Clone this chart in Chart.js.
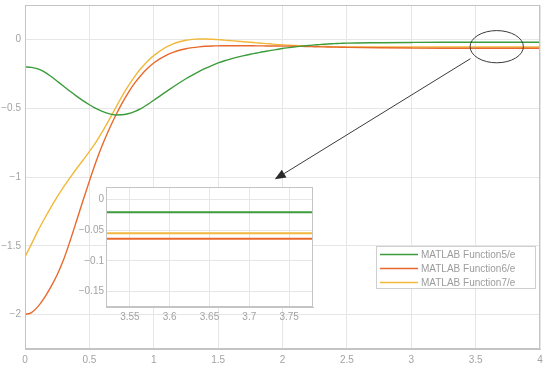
<!DOCTYPE html>
<html><head><meta charset="utf-8">
<script src="https://cdn.jsdelivr.net/npm/chart.js@4/dist/chart.umd.min.js"></script>
<style>
html,body{margin:0;padding:0;background:#fff;}
#wrap{position:relative;width:550px;height:368px;overflow:hidden;}
#main{position:absolute;left:0;top:0;width:550px;height:368px;}
#inset{position:absolute;left:70px;top:180px;width:250px;height:145px;}
</style></head><body>
<div id="wrap">
<canvas id="main" width="550" height="368"></canvas>
<canvas id="inset" width="250" height="145"></canvas>
</div>
<script>
// ---- data ----
const xs = [0,0.05,0.1,0.15,0.2,0.25,0.3,0.35,0.4,0.45,0.5,0.55,0.6,0.65,0.7,0.75,0.8,0.85,0.9,0.95,
  1.0,1.05,1.1,1.15,1.2,1.25,1.3,1.35,1.4,1.45,1.5,1.55,1.6,1.65,1.7,1.75,1.8,1.85,1.9,1.95,
  2.0,2.05,2.1,2.15,2.2,2.25,2.3,2.35,2.4,2.45,2.5,2.75,3.0,3.25,3.5,3.75,4.0];
const fn5 = [-0.200,-0.203,-0.214,-0.236,-0.268,-0.304,-0.340,-0.377,-0.412,-0.445,-0.475,-0.502,-0.523,-0.539,-0.549,-0.548,-0.540,-0.525,-0.503,-0.474,
  -0.442,-0.410,-0.378,-0.346,-0.315,-0.286,-0.259,-0.234,-0.211,-0.190,-0.171,-0.155,-0.141,-0.129,-0.118,-0.108,-0.099,-0.090,-0.082,-0.074,
  -0.066,-0.060,-0.054,-0.049,-0.044,-0.040,-0.036,-0.033,-0.031,-0.029,-0.027,-0.024,-0.022,-0.021,-0.021,-0.021,-0.021];
const fn6 = [-2.000,-1.985,-1.942,-1.878,-1.800,-1.710,-1.600,-1.465,-1.320,-1.172,-1.030,-0.893,-0.770,-0.660,-0.560,-0.470,-0.390,-0.320,-0.262,-0.212,
  -0.172,-0.140,-0.114,-0.094,-0.079,-0.068,-0.060,-0.054,-0.050,-0.048,-0.047,-0.046,-0.046,-0.046,-0.046,-0.046,-0.047,-0.047,-0.048,-0.048,
  -0.049,-0.049,-0.050,-0.051,-0.052,-0.053,-0.054,-0.055,-0.056,-0.057,-0.058,-0.061,-0.063,-0.064,-0.064,-0.064,-0.064];
const fn7 = [-1.580,-1.488,-1.392,-1.305,-1.222,-1.145,-1.072,-1.005,-0.940,-0.878,-0.815,-0.748,-0.672,-0.590,-0.505,-0.420,-0.342,-0.272,-0.212,-0.160,
  -0.118,-0.083,-0.055,-0.033,-0.017,-0.006,0.000,0.003,0.003,0.001,-0.002,-0.005,-0.009,-0.013,-0.017,-0.021,-0.025,-0.029,-0.032,-0.036,
  -0.039,-0.042,-0.044,-0.046,-0.048,-0.050,-0.051,-0.052,-0.053,-0.054,-0.054,-0.055,-0.055,-0.055,-0.055,-0.055,-0.055];
const seriesNames = ['MATLAB Function5/e','MATLAB Function6/e','MATLAB Function7/e'];
const mainXTicks = [0,0.5,1,1.5,2,2.5,3,3.5,4];
const mainYTicks = [-2,-1.5,-1,-0.5,0];
const insetXTicks = [3.55,3.6,3.65,3.7,3.75];
const insetYTicks = [0,-0.05,-0.1,-0.15];
// callout (data units of main axes)
const calloutEllipse = {cx:3.664, cy:-0.053, rx:0.207, ry:0.117};
const calloutArrow = {x1:3.46, y1:-0.14, x2:1.94, y2:-1.017};

// ---- style ----
const COLORS = ['#3b9c3b','#e8692e','#f2b83c'];
const TXT = '#a3a3a3', GRID = '#e6e6e6', BOX = '#c4c4c4';
Chart.defaults.font.family = '"Liberation Sans", Arial, Helvetica, sans-serif';
Chart.defaults.font.size = 10;
const fmt = v => (Math.round(v*10000)/10000).toString().replace('-', '\u2212');

function makeDatasets(bw){
  return [fn5,fn6,fn7].map((arr,k)=>({
    label: seriesNames[k],
    data: xs.map((x,i)=>({x:x, y:arr[i]})),
    borderColor: COLORS[k], backgroundColor: COLORS[k],
    borderWidth: bw, pointRadius: 0, fill:false,
    cubicInterpolationMode:'monotone'
  }));
}

const boxPlugin = {
  id:'boxPlug',
  beforeDraw(chart, args, opts){
    if(opts.whiteBg){
      const a=chart.chartArea, c=chart.ctx;
      c.save(); c.fillStyle='#fff'; c.fillRect(a.left,a.top,a.right-a.left,a.bottom-a.top); c.restore();
    }
  },
  afterDraw(chart, args, opts){
    const a=chart.chartArea, c=chart.ctx;
    c.save();
    c.strokeStyle=BOX; c.lineWidth=1;
    c.strokeRect(Math.round(a.left)+0.5, Math.round(a.top)+0.5, Math.round(a.right)-Math.round(a.left)-1, Math.round(a.bottom)-Math.round(a.top)-1);
    c.restore();
    if(opts.annotate){
      const xsS=chart.scales.x, ysS=chart.scales.y;
      c.save();
      c.strokeStyle='#3a3a3a'; c.fillStyle='#2a2a2a'; c.lineWidth=1;
      const ex=xsS.getPixelForValue(calloutEllipse.cx), ey=ysS.getPixelForValue(calloutEllipse.cy);
      const erx=xsS.getPixelForValue(calloutEllipse.cx+calloutEllipse.rx)-ex;
      const ery=ey-ysS.getPixelForValue(calloutEllipse.cy+calloutEllipse.ry);
      c.beginPath(); c.ellipse(ex,ey,erx,ery,0,0,Math.PI*2); c.stroke();
      const x1=xsS.getPixelForValue(calloutArrow.x1), y1=ysS.getPixelForValue(calloutArrow.y1);
      const x2=xsS.getPixelForValue(calloutArrow.x2), y2=ysS.getPixelForValue(calloutArrow.y2);
      const ang=Math.atan2(y2-y1,x2-x1), L=11, W=4.5;
      const bx=x2-L*Math.cos(ang), by=y2-L*Math.sin(ang);
      c.beginPath(); c.moveTo(x1,y1); c.lineTo(bx,by); c.stroke();
      c.beginPath(); c.moveTo(x2,y2);
      c.lineTo(bx+W*Math.sin(ang), by-W*Math.cos(ang));
      c.lineTo(bx-W*Math.sin(ang), by+W*Math.cos(ang));
      c.closePath(); c.fill();
      c.restore();
    }
    if(opts.legend){
      const L=opts.legend;
      c.save();
      c.fillStyle='#fff'; c.fillRect(L.x,L.y,L.w,L.h);
      c.strokeStyle='#cfcfcf'; c.lineWidth=1; c.strokeRect(L.x+0.5,L.y+0.5,L.w-1,L.h-1);
      c.font='10px "Liberation Sans", Arial, sans-serif'; c.textBaseline='middle'; c.textAlign='left';
      chart.data.datasets.forEach((ds,i)=>{
        const yy=L.y+8+i*14;
        c.strokeStyle=ds.borderColor; c.lineWidth=1.5;
        c.beginPath(); c.moveTo(L.x+4,yy+0.5); c.lineTo(L.x+42,yy+0.5); c.stroke();
        c.fillStyle='#9c9c9c'; c.fillText(ds.label, L.x+45, yy+1);
      });
      c.restore();
    }
  }
};

function axisX(min,max,ticks,h,pad){
  return {type:'linear', min:min, max:max,
    afterBuildTicks: s=>{ s.ticks = ticks.map(v=>({value:v})); },
    afterFit: s=>{ s.height=h; s.paddingLeft=0; s.paddingRight=0; },
    ticks:{color:TXT, padding:pad, maxRotation:0, autoSkip:false, callback:v=>fmt(v)},
    grid:{color:GRID, drawTicks:false}, border:{color:BOX}};
}
function axisY(min,max,ticks,w,pad){
  return {type:'linear', min:min, max:max,
    afterBuildTicks: s=>{ s.ticks = ticks.map(v=>({value:v})); },
    afterFit: s=>{ s.width=w; s.paddingTop=0; s.paddingBottom=0; },
    ticks:{color:TXT, padding:pad, autoSkip:false, callback:v=>fmt(v)},
    grid:{color:GRID, drawTicks:false}, border:{color:BOX}};
}

new Chart(document.getElementById('main'), {
  type:'line',
  data:{datasets: makeDatasets(1.4)},
  options:{
    responsive:false, animation:false, events:[],
    layout:{padding:{left:0,right:10,top:5,bottom:0}},
    scales:{ x: axisX(0,4,mainXTicks,19,5), y: axisY(-2.25,0.25,mainYTicks,25,4) },
    plugins:{ legend:{display:false}, tooltip:{enabled:false},
      boxPlug:{annotate:true, legend:{x:376,y:246,w:160,h:43}} }
  },
  plugins:[boxPlugin]
});

new Chart(document.getElementById('inset'), {
  type:'line',
  data:{datasets: makeDatasets(2)},
  options:{
    responsive:false, animation:false, events:[],
    layout:{padding:{left:0,right:7,top:7,bottom:0}},
    scales:{ x: axisX(3.52,3.78,insetXTicks,18,4), y: axisY(-0.175,0.02,insetYTicks,36,2) },
    plugins:{ legend:{display:false}, tooltip:{enabled:false}, boxPlug:{whiteBg:true} }
  },
  plugins:[boxPlugin]
});
</script>
</body></html>
